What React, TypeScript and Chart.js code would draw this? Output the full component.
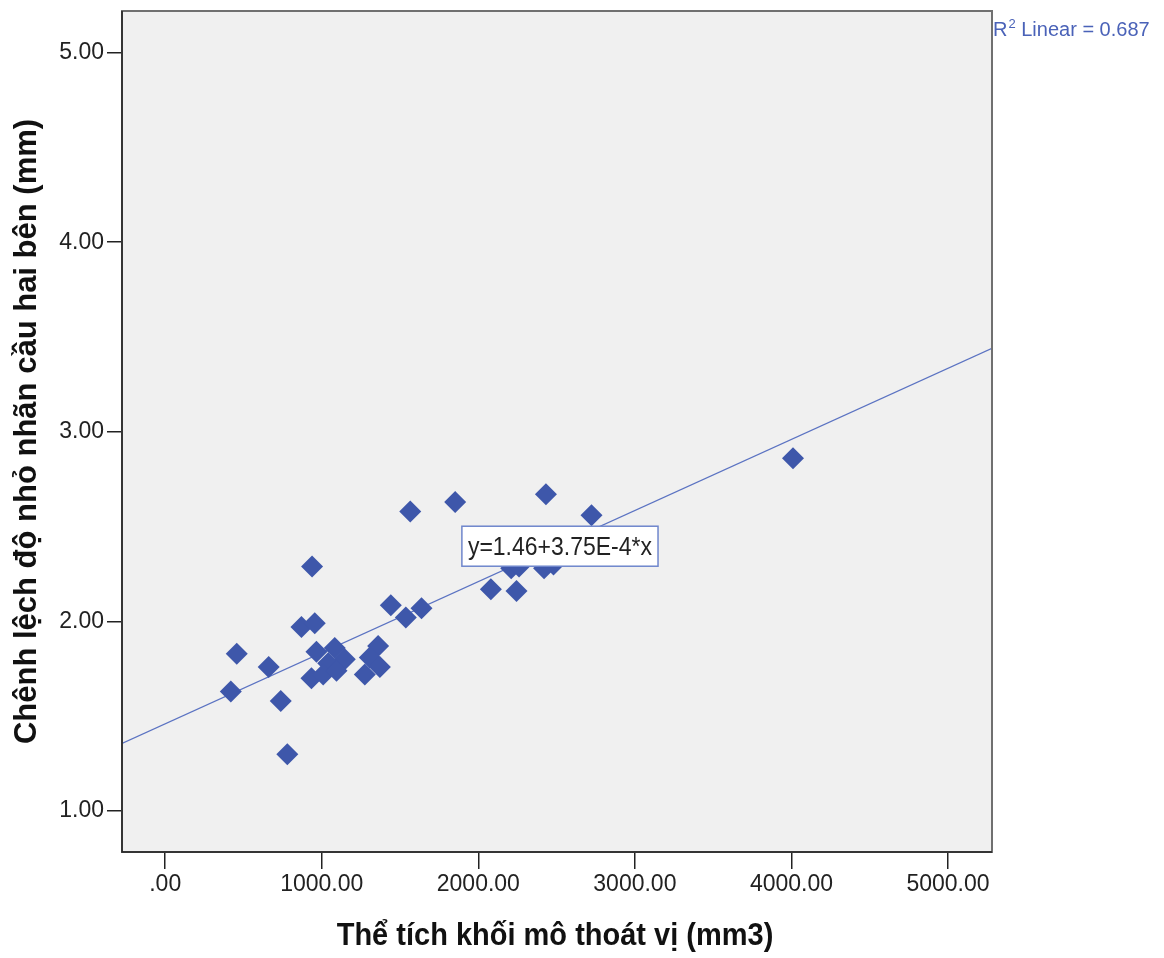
import React, { useEffect, useRef } from 'react';
import { Chart, registerables } from 'chart.js';

Chart.register(...registerables);

// ---- data ----
const volumes = [419, 457, 661, 738, 780, 870, 938, 955, 966, 1083, 1147, 1041, 934, 1009, 1094, 1360, 1307, 1275, 1371, 1441, 1537, 1637, 1565, 1852, 2080, 2244, 2210, 2260, 2420, 2480, 2432, 2723, 4010];
const differences = [1.63, 1.83, 1.76, 1.58, 1.30, 1.97, 2.29, 1.99, 1.84, 1.86, 1.80, 1.78, 1.70, 1.72, 1.74, 1.87, 1.81, 1.72, 1.76, 2.085, 2.02, 2.07, 2.58, 2.63, 2.17, 2.16, 2.28, 2.29, 2.28, 2.30, 2.67, 2.56, 2.86];
const xTickValues = [0, 1000, 2000, 3000, 4000, 5000];
const yTickValues = [1, 2, 3, 4, 5];
const xRange = [-276, 5281];
const yRange = [0.784, 5.219];
const fitIntercept = 1.46;
const fitSlope = 3.75e-4;
const equationText = 'y=1.46+3.75E-4*x';
const r2Text = ' Linear = 0.687';
const xTitle = 'Thể tích khối mô thoát vị (mm3)';
const yTitle = 'Chênh lệch độ nhỏ nhãn cầu hai bên (mm)';
const equationAnchor = [1895, 2.502]; // top-left of the label box, in data units

const FONT = '"Liberation Sans", Arial, sans-serif';
const POINT_COLOR = '#3e57aa';
const LINE_COLOR = '#5b73c2';

const fmt = (v: number) => (v === 0 ? '.00' : v.toFixed(2));

const decorPlugin = {
  id: 'decor',
  beforeDraw(chart: any) {
    const { ctx, chartArea: a } = chart;
    ctx.save();
    ctx.fillStyle = '#ffffff';
    ctx.fillRect(0, 0, chart.width, chart.height);
    ctx.fillStyle = '#f0f0f0';
    ctx.fillRect(a.left, a.top, a.right - a.left, a.bottom - a.top);
    ctx.restore();
  },
  afterDatasetsDraw(chart: any) {
    const { ctx, chartArea: a, scales } = chart;
    ctx.save();
    // frame
    ctx.strokeStyle = '#707070';
    ctx.lineWidth = 2;
    ctx.strokeRect(a.left, a.top, a.right - a.left, a.bottom - a.top);
    ctx.strokeStyle = '#222';
    ctx.lineWidth = 1.5;
    ctx.beginPath();
    ctx.moveTo(a.left, a.top);
    ctx.lineTo(a.left, a.bottom);
    ctx.lineTo(a.right, a.bottom);
    ctx.stroke();

    // equation label
    const bx = scales.x.getPixelForValue(equationAnchor[0]);
    const by = scales.y.getPixelForValue(equationAnchor[1]);
    ctx.font = `23px ${FONT}`;
    const tw = ctx.measureText(equationText).width;
    const bw = tw + 12;
    const bh = 40;
    ctx.fillStyle = '#ffffff';
    ctx.fillRect(bx, by, bw, bh);
    ctx.strokeStyle = '#6f86cc';
    ctx.lineWidth = 1.5;
    ctx.strokeRect(bx, by, bw, bh);
    ctx.fillStyle = '#222';
    ctx.textBaseline = 'alphabetic';
    ctx.textAlign = 'left';
    ctx.save();
    ctx.translate(bx + 6, by + 29);
    ctx.scale(1, 1.15);
    ctx.fillText(equationText, 0, 0);
    ctx.restore();
    ctx.restore();
  },
  afterDraw(chart: any) {
    const { ctx, chartArea: a } = chart;
    ctx.save();
    ctx.fillStyle = '#4a62b8';
    ctx.textBaseline = 'alphabetic';
    ctx.textAlign = 'left';
    // R^2 label
    let x = a.right + 1;
    const base = 36;
    ctx.font = `20px ${FONT}`;
    ctx.fillText('R', x, base);
    x += ctx.measureText('R').width + 1;
    ctx.font = `13px ${FONT}`;
    ctx.fillText('2', x, base - 8);
    x += ctx.measureText('2').width;
    ctx.font = `20px ${FONT}`;
    ctx.fillText(r2Text, x, base);

    // axis titles
    ctx.fillStyle = '#111';
    ctx.font = `bold 29px ${FONT}`;
    ctx.textAlign = 'center';
    ctx.save();
    ctx.translate((a.left + a.right) / 2 - 2, 945);
    ctx.scale(1, 1.08);
    ctx.fillText(xTitle, 0, 0);
    ctx.restore();

    ctx.save();
    ctx.translate(36, (a.top + a.bottom) / 2);
    ctx.rotate(-Math.PI / 2);
    ctx.font = `bold 31px ${FONT}`;
    ctx.fillText(yTitle, 0, 0);
    ctx.restore();
    ctx.restore();
  },
};

export default function App() {
  const ref = useRef<HTMLCanvasElement | null>(null);

  useEffect(() => {
    if (!ref.current) return;
    const points = volumes.map((v, i) => ({ x: v, y: differences[i] }));
    const fitLine = xRange.map((v) => ({ x: v, y: fitIntercept + fitSlope * v }));

    const chart = new Chart(ref.current, {
      type: 'scatter',
      data: {
        datasets: [
          {
            type: 'scatter',
            data: points,
            pointStyle: 'rectRot',
            pointRadius: 11,
            pointHoverRadius: 11,
            backgroundColor: POINT_COLOR,
            borderColor: POINT_COLOR,
            borderWidth: 0,
            order: 1,
          },
          {
            type: 'line',
            data: fitLine,
            borderColor: LINE_COLOR,
            borderWidth: 1.3,
            pointRadius: 0,
            fill: false,
            order: 2,
          } as any,
        ],
      },
      plugins: [decorPlugin],
      options: {
        animation: false,
        responsive: false,
        devicePixelRatio: 1,
        layout: { padding: { top: 10, right: 172, left: 0, bottom: 0 } },
        plugins: { legend: { display: false }, tooltip: { enabled: false } },
        scales: {
          x: {
            type: 'linear',
            min: xRange[0],
            max: xRange[1],
            afterBuildTicks: (s: any) => {
              s.ticks = xTickValues.map((v) => ({ value: v }));
            },
            afterFit: (s: any) => {
              s.height = 106;
              s.paddingLeft = 0;
              s.paddingRight = 0;
            },
            ticks: {
              callback: (v: any) => fmt(Number(v)),
              color: '#222',
              font: { family: FONT, size: 23 },
              padding: 2,
              maxRotation: 0,
              autoSkip: false,
            },
            grid: { drawOnChartArea: false, drawTicks: true, tickLength: 17, color: '#222', lineWidth: 1.5 },
            border: { display: false },
          },
          y: {
            type: 'linear',
            min: yRange[0],
            max: yRange[1],
            afterBuildTicks: (s: any) => {
              s.ticks = yTickValues.map((v) => ({ value: v }));
            },
            afterFit: (s: any) => {
              s.width = 122;
              s.paddingTop = 0;
              s.paddingBottom = 0;
            },
            ticks: {
              callback: (v: any) => fmt(Number(v)),
              color: '#222',
              font: { family: FONT, size: 23 },
              padding: 3,
              autoSkip: false,
            },
            grid: { drawOnChartArea: false, drawTicks: true, tickLength: 15, color: '#222', lineWidth: 1.5 },
            border: { display: false },
          },
        },
      },
    });
    return () => chart.destroy();
  }, []);

  return (
    <div style={{ position: 'fixed', left: 0, top: 0, width: 1164, height: 958, background: '#fff' }}>
      <canvas ref={ref} width={1164} height={958} style={{ width: 1164, height: 958, display: 'block' }} />
    </div>
  );
}
